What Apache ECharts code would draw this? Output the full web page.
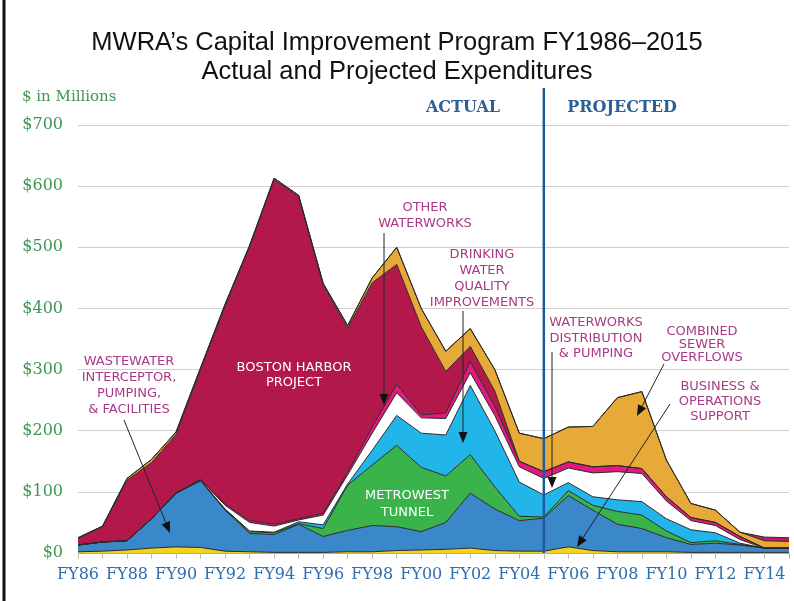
<!DOCTYPE html>
<html>
<head>
<meta charset="utf-8">
<title>MWRA Capital Improvement Program</title>
<script src="https://cdn.jsdelivr.net/npm/echarts@6/dist/echarts.min.js"></script>
<style>
  html, body { margin: 0; padding: 0; background: #fff; }
  #chart { width: 794px; height: 601px; }
</style>
</head>
<body>
<div id="chart"></div>
<script>
// fiscal years FY86..FY15
var years = ['FY86','FY87','FY88','FY89','FY90','FY91','FY92','FY93','FY94','FY95',
             'FY96','FY97','FY98','FY99','FY00','FY01','FY02','FY03','FY04','FY05',
             'FY06','FY07','FY08','FY09','FY10','FY11','FY12','FY13','FY14','FY15'];

// $ millions per program, bottom of the stack first
var businessOps   = [2,3,5,8,10,9,3,2,1,1,1,2,2,4,5,6,8,4,3,3,10,4,2,2,2,1,1,1,1,1];
var wastewater    = [11,15,15,48,88,109,67,30,29,46,26,35,43,39,30,44,90,68,50,54,84,66,45,38,23,13,15,12,7,7];
var metrowest     = [0,0,0,0,0,1,1,3,3,1,13,74,99,133,105,76,63,36,7,2,8,8,21,22,11,3,4,1,0,0];
var drinkingWater = [0,0,0,0,0,0,1,1,1,3,6,2,24,49,56,67,113,92,56,36,13,14,19,22,20,21,13,2,0,0];
var distribution  = [0,0,0,0,0,1,6,14,10,3,16,15,28,37,25,27,21,25,25,27,24,39,46,46,29,15,12,6,0,0];
var otherWater    = [0,0,0,0,0,0,2,3,3,2,3,4,10,14,5,9,18,15,9,11,10,10,10,8,7,5,5,5,0,0];
var bostonHarbor  = [11,25,99,92,96,180,324,448,564,527,373,236,236,196,144,68,25,25,0,0,0,0,0,0,0,0,0,0,0,0];
var cso           = [1,1,3,5,4,3,3,2,2,2,3,4,8,28,30,33,29,35,46,54,57,66,111,126,60,23,20,7,12,11];
var lateWorks     = [0,0,0,0,0,0,0,0,0,0,0,0,0,0,0,0,0,0,0,0,0,0,0,0,0,0,0,0,6,6];

var yTicks = [0,100,200,300,400,500,600,700];

var layers = [
  {name: 'Business & Operations Support', data: businessOps, color: '#f3d31c'},
  {name: 'Wastewater Interceptor, Pumping, & Facilities', data: wastewater, color: '#3a87c9'},
  {name: 'MetroWest Tunnel', data: metrowest, color: '#3bb34b'},
  {name: 'Drinking Water Quality Improvements', data: drinkingWater, color: '#22b5ea'},
  {name: 'Waterworks Distribution & Pumping', data: distribution, color: '#ffffff'},
  {name: 'Other Waterworks', data: otherWater, color: '#e3197f'},
  {name: 'Boston Harbor Project', data: bostonHarbor, color: '#b3184a'},
  {name: 'Combined Sewer Overflows', data: cso, color: '#e7a937'},
  {name: 'Other Waterworks (late)', data: lateWorks, color: '#c8185c'}
];

var serif = '"DejaVu Serif", serif';
var sans = '"DejaVu Sans", sans-serif';
var labelColor = '#a93a86';

var chart = echarts.init(document.getElementById('chart'));

function arrow(x1, y1, x2, y2) {
  var dx = x2 - x1, dy = y2 - y1;
  var len = Math.sqrt(dx * dx + dy * dy);
  var ux = dx / len, uy = dy / len;
  var bx = x2 - ux * 11, by = y2 - uy * 11;
  return [
    {type: 'line', shape: {x1: x1, y1: y1, x2: bx, y2: by},
     style: {stroke: '#222', lineWidth: 1}, z: 100},
    {type: 'polygon', shape: {points: [[x2, y2], [bx - uy * 4.5, by + ux * 4.5], [bx + uy * 4.5, by - ux * 4.5]]},
     style: {fill: '#111'}, z: 100}
  ];
}

function label(text, x, y, lh, color) {
  return {type: 'text', x: x, y: y - lh / 2, z: 100,
    style: {text: text, font: '13px ' + sans, fill: color || labelColor,
            textAlign: 'center', textVerticalAlign: 'top', lineHeight: lh}};
}

var option = {
  animation: false,
  backgroundColor: '#fff',
  title: {
    text: 'MWRA\u2019s Capital Improvement Program FY1986\u20132015\nActual and Projected Expenditures',
    left: 'center',
    top: 23,
    textStyle: {fontFamily: '"Liberation Sans", sans-serif', fontSize: 25.5, fontWeight: 'normal',
                color: '#111', lineHeight: 29}
  },
  grid: {left: 78, right: 5, top: 125, bottom: 48},
  xAxis: {
    type: 'category',
    data: years,
    boundaryGap: false,
    axisLine: {lineStyle: {color: '#aaa'}},
    axisTick: {interval: 0, length: 6, lineStyle: {color: '#bbb'}},
    axisLabel: {interval: 1, color: '#2e6cb0', fontFamily: serif, fontSize: 16, margin: 14}
  },
  yAxis: {
    type: 'value',
    min: yTicks[0],
    max: yTicks[yTicks.length - 1],
    interval: 100,
    axisLine: {show: false},
    axisTick: {show: false},
    splitLine: {lineStyle: {color: '#cfcfcf', width: 1}},
    axisLabel: {color: '#3d9655', fontFamily: serif, fontSize: 16, margin: 15,
                formatter: function (v) { return '$' + v; }}
  },
  series: layers.map(function (l) {
    return {
      name: l.name,
      type: 'line',
      stack: 'total',
      data: l.data,
      symbol: 'none',
      smooth: false,
      lineStyle: {color: '#2a2a2a', width: 1},
      areaStyle: {color: l.color, opacity: 1}
    };
  })
};

chart.setOption(option);

// divider between actual and projected, placed at FY05
var xDiv = chart.convertToPixel({xAxisIndex: 0}, 'FY05');
var yBase = chart.convertToPixel({yAxisIndex: 0}, 0);

var g = [
  {type: 'line', shape: {x1: 4, y1: 0, x2: 4, y2: 601}, style: {stroke: '#111', lineWidth: 3}},
  {type: 'line', shape: {x1: xDiv, y1: 88, x2: xDiv, y2: yBase}, style: {stroke: '#1f5b9c', lineWidth: 2.5}, z: 90},
  {type: 'text', x: 22, y: 97, style: {text: '$ in Millions', font: '15px ' + serif, fill: '#3d9655',
    textAlign: 'left', textVerticalAlign: 'middle'}},
  {type: 'text', x: 463, y: 108, style: {text: 'ACTUAL', font: 'bold 16px ' + serif, fill: '#2d5f93',
    textAlign: 'center', textVerticalAlign: 'middle'}},
  {type: 'text', x: 622, y: 108, style: {text: 'PROJECTED', font: 'bold 16px ' + serif, fill: '#2d5f93',
    textAlign: 'center', textVerticalAlign: 'middle'}},
  label('WASTEWATER\nINTERCEPTOR,\nPUMPING,\n& FACILITIES', 129, 362, 16),
  label('BOSTON HARBOR\nPROJECT', 294, 368, 15, '#ffffff'),
  label('OTHER\nWATERWORKS', 425, 208, 16),
  label('DRINKING\nWATER\nQUALITY\nIMPROVEMENTS', 482, 255, 16),
  label('METROWEST\nTUNNEL', 407, 496, 17, '#ffffff'),
  label('WATERWORKS\nDISTRIBUTION\n& PUMPING', 596, 323, 15.5),
  label('COMBINED\nSEWER\nOVERFLOWS', 702, 332, 13),
  label('BUSINESS &\nOPERATIONS\nSUPPORT', 720, 387, 15)
];
g = g.concat(arrow(124, 420, 170, 533));
g = g.concat(arrow(384, 233, 384, 405));
g = g.concat(arrow(463, 311, 463, 443));
g = g.concat(arrow(552, 352, 552, 488));
g = g.concat(arrow(664, 364, 637, 416));
g = g.concat(arrow(670, 404, 577, 547));

chart.setOption({graphic: g});
</script>
</body>
</html>
